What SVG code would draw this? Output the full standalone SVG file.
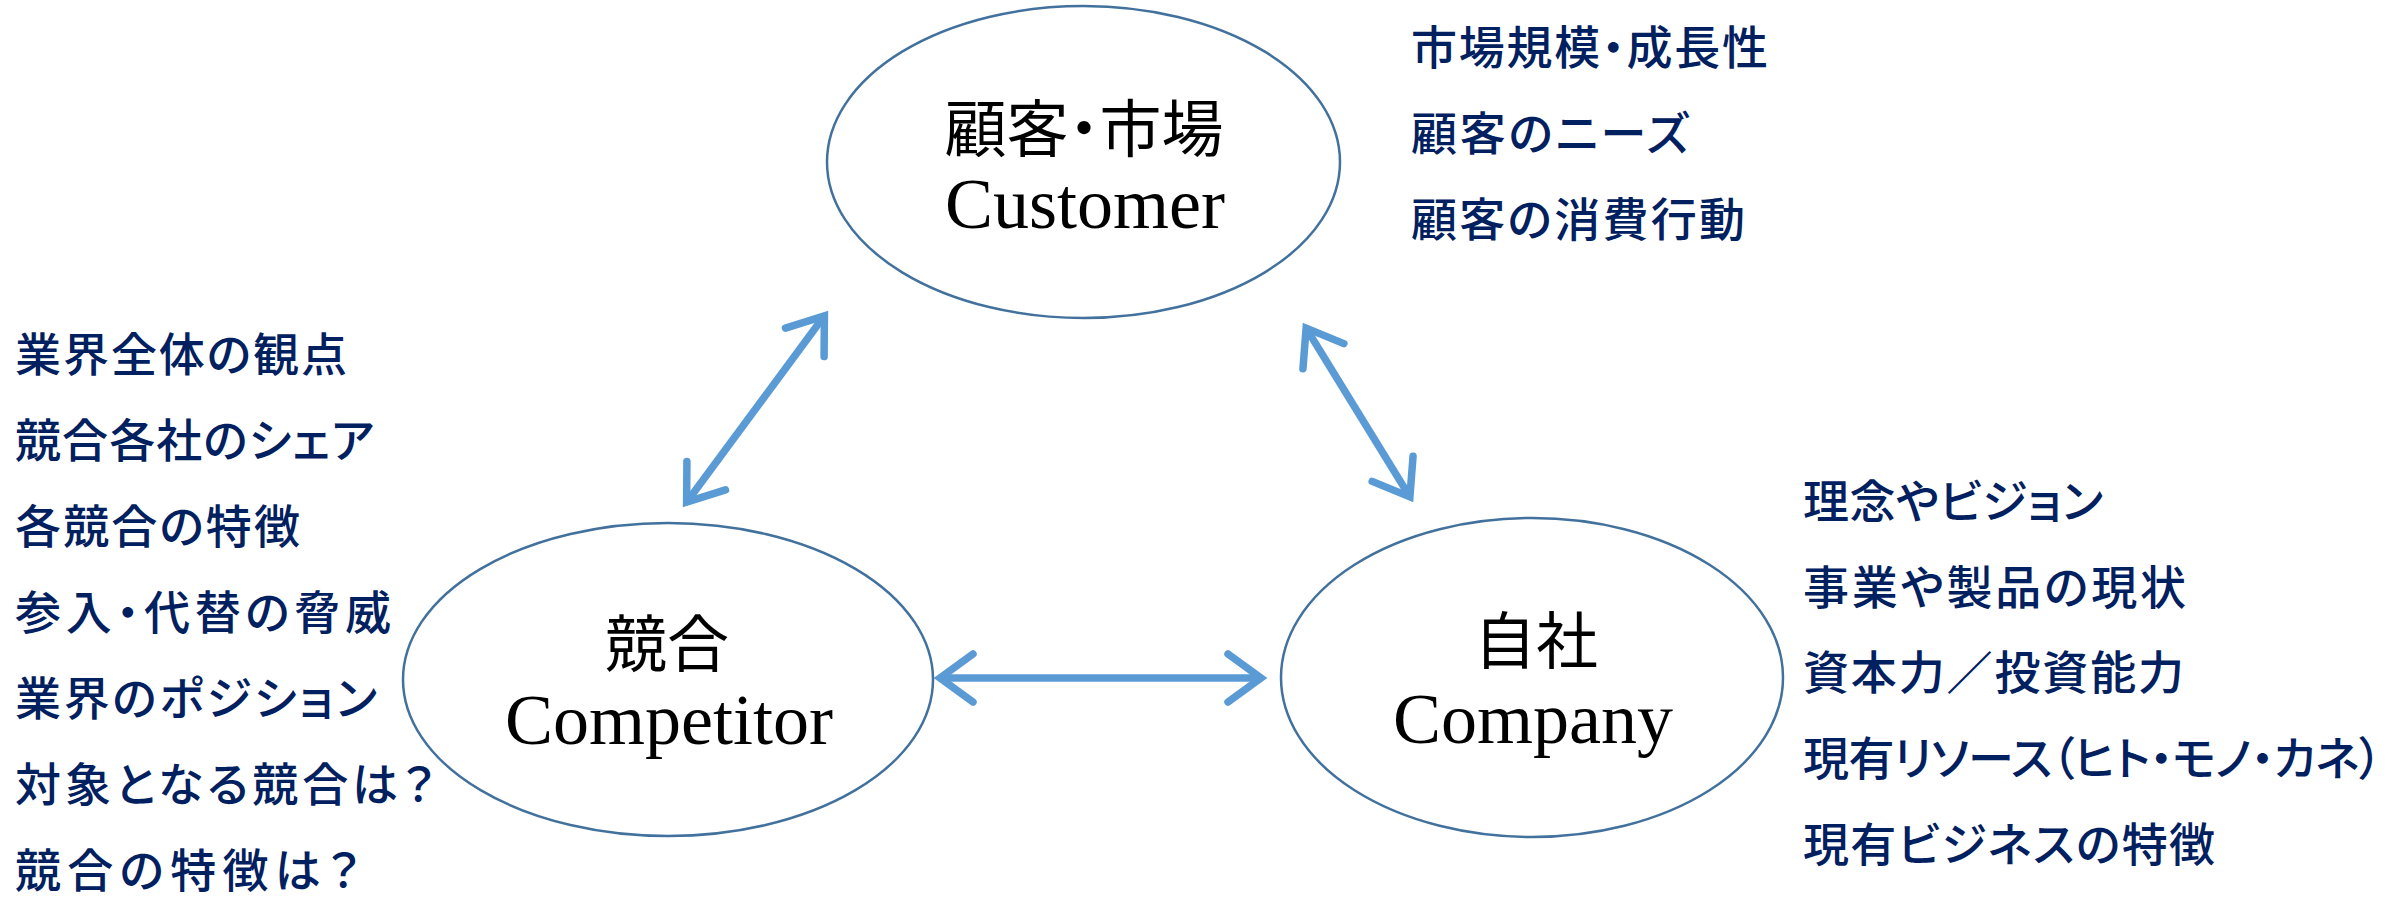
<svg xmlns="http://www.w3.org/2000/svg" width="2407" height="897" viewBox="0 0 2407 897">
<style>
.ell{fill:#ffffff;stroke:#41719C;stroke-width:2.5}
.jt{font-family:"Noto Sans CJK JP","Noto Sans",sans-serif;font-size:62px;fill:#000000;text-anchor:middle;font-feature-settings:"palt"}
.en{font-family:"Liberation Serif",serif;font-size:72px;fill:#000000;text-anchor:middle}
.li{font-family:"Noto Sans CJK JP","Noto Sans",sans-serif;font-size:46px;font-weight:500;fill:#002060;font-feature-settings:"palt"}
.arr{fill:none;stroke:#5B9BD5;stroke-width:7.5;marker-start:url(#ah);marker-end:url(#ah)}
</style>
<defs>
<marker id="ah" markerUnits="userSpaceOnUse" orient="auto-start-reverse" refX="0" refY="0" markerWidth="80" markerHeight="80" viewBox="-40 -40 80 80" overflow="visible">
<path d="M -33 -24 L 0 0 L -33 24" fill="none" stroke="#5B9BD5" stroke-width="7.5" stroke-linecap="round" stroke-linejoin="miter"/>
</marker>
</defs>
<rect x="0" y="0" width="2407" height="897" fill="#ffffff"/>
<g id="connectors">
<line class="arr" x1="686.6" y1="502.2" x2="824.4" y2="315.8"/>
<line class="arr" x1="1306.1" y1="328.1" x2="1409.9" y2="496.9"/>
<line class="arr" x1="940" y1="678" x2="1261" y2="678"/>
</g>
<g id="customer">
<ellipse class="ell" cx="1083.5" cy="162" rx="256.5" ry="156"/>
<text class="jt" x="1084" y="152">顧客・市場</text>
<text class="en" x="1085" y="228">Customer</text>
</g>
<g id="competitor">
<ellipse class="ell" cx="668" cy="679.5" rx="265" ry="156.5"/>
<text class="jt" x="667" y="667">競合</text>
<text class="en" x="669" y="744">Competitor</text>
</g>
<g id="company">
<ellipse class="ell" cx="1532" cy="677.5" rx="251" ry="159.5"/>
<text class="jt" x="1536" y="664">自社</text>
<text class="en" x="1533" y="743">Company</text>
</g>
<g id="customer-notes">
<text class="li" x="1411" y="64" textLength="357">市場規模・成長性</text>
<text class="li" x="1411" y="150" textLength="278">顧客のニーズ</text>
<text class="li" x="1411" y="236" textLength="334">顧客の消費行動</text>
</g>
<g id="competitor-notes">
<text class="li" x="15" y="370.5" textLength="332">業界全体の観点</text>
<text class="li" x="15" y="456.5" textLength="359">競合各社のシェア</text>
<text class="li" x="15" y="542.5" textLength="285">各競合の特徴</text>
<text class="li" x="15" y="628.5" textLength="376">参入・代替の脅威</text>
<text class="li" x="15" y="714.5" textLength="362">業界のポジション</text>
<text class="li" x="15" y="800.5" textLength="420">対象となる競合は？</text>
<text class="li" x="15" y="886.5" textLength="345">競合の特徴は？</text>
</g>
<g id="company-notes">
<text class="li" x="1803" y="517.5" textLength="300">理念やビジョン</text>
<text class="li" x="1803" y="603.5" textLength="383">事業や製品の現状</text>
<text class="li" x="1803" y="688.5" textLength="381">資本力／投資能力</text>
<text class="li" x="1803" y="774.5" textLength="579">現有リソース（ヒト・モノ・カネ）</text>
<text class="li" x="1803" y="860.5" textLength="412">現有ビジネスの特徴</text>
</g>
</svg>
